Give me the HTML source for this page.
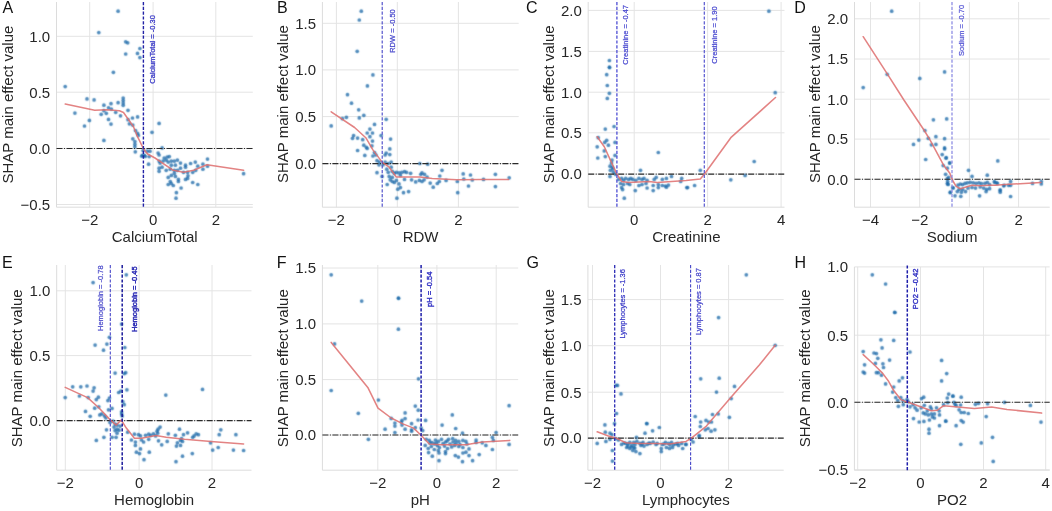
<!DOCTYPE html>
<html><head><meta charset="utf-8"><style>
html,body{margin:0;padding:0;background:#fff;}
svg{display:block;}
#w{width:1052px;height:511px;will-change:transform;}
.t{font-family:"Liberation Sans", sans-serif;font-size:15px;fill:#262626;}
.L{font-family:"Liberation Sans", sans-serif;font-size:16px;fill:#111;}
.v{font-family:"Liberation Sans", sans-serif;font-size:7.5px;}
.p{fill:#1f6cab;fill-opacity:0.78;}
</style></head><body>
<div id="w"><svg width="1052" height="511" viewBox="0 0 1052 511"><defs><filter id="bl" x="0" y="0" width="1052" height="511" filterUnits="userSpaceOnUse"><feConvolveMatrix order="3" kernelMatrix="0.03 0.1 0.03 0.1 0.48 0.1 0.03 0.1 0.03" edgeMode="duplicate"/></filter></defs>
<line x1="89.7" y1="2" x2="89.7" y2="207.2" stroke="#e4e4e4" stroke-width="1"/>
<line x1="153.1" y1="2" x2="153.1" y2="207.2" stroke="#e4e4e4" stroke-width="1"/>
<line x1="215.8" y1="2" x2="215.8" y2="207.2" stroke="#e4e4e4" stroke-width="1"/>
<line x1="56.5" y1="36.3" x2="252.8" y2="36.3" stroke="#e4e4e4" stroke-width="1"/>
<line x1="56.5" y1="92.2" x2="252.8" y2="92.2" stroke="#e4e4e4" stroke-width="1"/>
<line x1="56.5" y1="148.4" x2="252.8" y2="148.4" stroke="#e4e4e4" stroke-width="1"/>
<line x1="56.5" y1="204.5" x2="252.8" y2="204.5" stroke="#e4e4e4" stroke-width="1"/>
<line x1="56.5" y1="2" x2="56.5" y2="207.2" stroke="#dcdcdc" stroke-width="1"/>
<line x1="56.5" y1="207.2" x2="252.8" y2="207.2" stroke="#dcdcdc" stroke-width="1"/>
<text x="89.7" y="224.6" text-anchor="middle" class="t">−2</text>
<text x="153.1" y="224.6" text-anchor="middle" class="t">0</text>
<text x="215.8" y="224.6" text-anchor="middle" class="t">2</text>
<text x="50.2" y="41.6" text-anchor="end" class="t">1.0</text>
<text x="50.2" y="97.5" text-anchor="end" class="t">0.5</text>
<text x="50.2" y="153.7" text-anchor="end" class="t">0.0</text>
<text x="50.2" y="209.8" text-anchor="end" class="t">−0.5</text>
<text x="154.65" y="241.9" text-anchor="middle" class="t">CalciumTotal</text>
<text transform="translate(12.8,104.6) rotate(-90)" text-anchor="middle" class="t">SHAP main effect value</text>
<text x="2.4" y="13.4" class="L">A</text>
<g filter="url(#bl)">
<circle class="p" cx="118.1" cy="11.2" r="1.85"/>
<circle class="p" cx="98.8" cy="32.6" r="1.85"/>
<circle class="p" cx="125.7" cy="41.8" r="1.85"/>
<circle class="p" cx="127.7" cy="42.8" r="1.85"/>
<circle class="p" cx="139.9" cy="48.5" r="1.85"/>
<circle class="p" cx="125.7" cy="54" r="1.85"/>
<circle class="p" cx="137.5" cy="53.4" r="1.85"/>
<circle class="p" cx="139.9" cy="57.6" r="1.85"/>
<circle class="p" cx="113.4" cy="72.3" r="1.85"/>
<circle class="p" cx="65.2" cy="86.6" r="1.85"/>
<circle class="p" cx="87" cy="98.9" r="1.85"/>
<circle class="p" cx="94.1" cy="99.9" r="1.85"/>
<circle class="p" cx="111" cy="103.7" r="1.85"/>
<circle class="p" cx="103.9" cy="105.2" r="1.85"/>
<circle class="p" cx="108.5" cy="107.8" r="1.85"/>
<circle class="p" cx="111.4" cy="109" r="1.85"/>
<circle class="p" cx="103.9" cy="110.7" r="1.85"/>
<circle class="p" cx="106.3" cy="113.3" r="1.85"/>
<circle class="p" cx="101.2" cy="114.3" r="1.85"/>
<circle class="p" cx="115.7" cy="112.3" r="1.85"/>
<circle class="p" cx="74.9" cy="113.1" r="1.85"/>
<circle class="p" cx="89.4" cy="120.4" r="1.85"/>
<circle class="p" cx="84.5" cy="126" r="1.85"/>
<circle class="p" cx="108.5" cy="119.4" r="1.85"/>
<circle class="p" cx="111" cy="124.1" r="1.85"/>
<circle class="p" cx="103.9" cy="140.4" r="1.85"/>
<circle class="p" cx="118.1" cy="102.7" r="1.85"/>
<circle class="p" cx="123.2" cy="98" r="1.85"/>
<circle class="p" cx="123.2" cy="100.5" r="1.85"/>
<circle class="p" cx="123.2" cy="103" r="1.85"/>
<circle class="p" cx="123.2" cy="105.3" r="1.85"/>
<circle class="p" cx="128" cy="110.3" r="1.85"/>
<circle class="p" cx="120.5" cy="115.8" r="1.85"/>
<circle class="p" cx="132.5" cy="118" r="1.85"/>
<circle class="p" cx="137.6" cy="116.9" r="1.85"/>
<circle class="p" cx="128" cy="119.7" r="1.85"/>
<circle class="p" cx="129.4" cy="123.8" r="1.85"/>
<circle class="p" cx="132.8" cy="125.1" r="1.85"/>
<circle class="p" cx="135.5" cy="130.6" r="1.85"/>
<circle class="p" cx="137.6" cy="133.4" r="1.85"/>
<circle class="p" cx="138.3" cy="135.4" r="1.85"/>
<circle class="p" cx="132.8" cy="138.8" r="1.85"/>
<circle class="p" cx="134.9" cy="141.6" r="1.85"/>
<circle class="p" cx="134.9" cy="144.3" r="1.85"/>
<circle class="p" cx="134.9" cy="146.8" r="1.85"/>
<circle class="p" cx="135.3" cy="151.8" r="1.85"/>
<circle class="p" cx="143.1" cy="150.5" r="1.85"/>
<circle class="p" cx="142.4" cy="155.3" r="1.85"/>
<circle class="p" cx="144.5" cy="155.3" r="1.85"/>
<circle class="p" cx="147.2" cy="151.2" r="1.85"/>
<circle class="p" cx="150" cy="151.2" r="1.85"/>
<circle class="p" cx="148.6" cy="164.2" r="1.85"/>
<circle class="p" cx="149.2" cy="156.6" r="1.85"/>
<circle class="p" cx="152" cy="132.3" r="1.85"/>
<circle class="p" cx="159.1" cy="123.4" r="1.85"/>
<circle class="p" cx="162.1" cy="147.9" r="1.85"/>
<circle class="p" cx="158.1" cy="153" r="1.85"/>
<circle class="p" cx="159.1" cy="155" r="1.85"/>
<circle class="p" cx="164.2" cy="158" r="1.85"/>
<circle class="p" cx="167.2" cy="157" r="1.85"/>
<circle class="p" cx="169.3" cy="156.6" r="1.85"/>
<circle class="p" cx="166.2" cy="160.1" r="1.85"/>
<circle class="p" cx="159.1" cy="161.1" r="1.85"/>
<circle class="p" cx="160.1" cy="163.1" r="1.85"/>
<circle class="p" cx="163.1" cy="161.1" r="1.85"/>
<circle class="p" cx="168.2" cy="162.1" r="1.85"/>
<circle class="p" cx="171.3" cy="161.1" r="1.85"/>
<circle class="p" cx="174.3" cy="161.1" r="1.85"/>
<circle class="p" cx="177.4" cy="160.1" r="1.85"/>
<circle class="p" cx="180.5" cy="163.1" r="1.85"/>
<circle class="p" cx="171.3" cy="165.2" r="1.85"/>
<circle class="p" cx="175.4" cy="165.2" r="1.85"/>
<circle class="p" cx="162.1" cy="167.2" r="1.85"/>
<circle class="p" cx="159.1" cy="168.2" r="1.85"/>
<circle class="p" cx="159.1" cy="171.3" r="1.85"/>
<circle class="p" cx="166.2" cy="170.3" r="1.85"/>
<circle class="p" cx="170.3" cy="169.2" r="1.85"/>
<circle class="p" cx="174.3" cy="170.3" r="1.85"/>
<circle class="p" cx="177.4" cy="170.3" r="1.85"/>
<circle class="p" cx="180.5" cy="168.2" r="1.85"/>
<circle class="p" cx="185.5" cy="165.2" r="1.85"/>
<circle class="p" cx="185.5" cy="167.2" r="1.85"/>
<circle class="p" cx="190.6" cy="163.5" r="1.85"/>
<circle class="p" cx="195.3" cy="162.1" r="1.85"/>
<circle class="p" cx="197.8" cy="166.2" r="1.85"/>
<circle class="p" cx="202.9" cy="164.2" r="1.85"/>
<circle class="p" cx="207.5" cy="159.1" r="1.85"/>
<circle class="p" cx="207.5" cy="166.2" r="1.85"/>
<circle class="p" cx="202.9" cy="169.2" r="1.85"/>
<circle class="p" cx="195.7" cy="170.3" r="1.85"/>
<circle class="p" cx="192.7" cy="172.3" r="1.85"/>
<circle class="p" cx="187.6" cy="172.3" r="1.85"/>
<circle class="p" cx="183.5" cy="172.3" r="1.85"/>
<circle class="p" cx="174.3" cy="173.3" r="1.85"/>
<circle class="p" cx="171.3" cy="175.4" r="1.85"/>
<circle class="p" cx="168.2" cy="177.4" r="1.85"/>
<circle class="p" cx="175.4" cy="176.4" r="1.85"/>
<circle class="p" cx="178.4" cy="179.4" r="1.85"/>
<circle class="p" cx="178.4" cy="181.5" r="1.85"/>
<circle class="p" cx="185.5" cy="179.4" r="1.85"/>
<circle class="p" cx="188" cy="175.8" r="1.85"/>
<circle class="p" cx="187.6" cy="178.4" r="1.85"/>
<circle class="p" cx="170.3" cy="181.5" r="1.85"/>
<circle class="p" cx="168.2" cy="184.5" r="1.85"/>
<circle class="p" cx="171.3" cy="183.5" r="1.85"/>
<circle class="p" cx="173.3" cy="185.5" r="1.85"/>
<circle class="p" cx="192.7" cy="182.5" r="1.85"/>
<circle class="p" cx="197.8" cy="184.5" r="1.85"/>
<circle class="p" cx="181.1" cy="188" r="1.85"/>
<circle class="p" cx="176.4" cy="192.7" r="1.85"/>
<circle class="p" cx="176" cy="198.2" r="1.85"/>
<circle class="p" cx="243.6" cy="173.7" r="1.85"/>
<circle class="p" cx="143.5" cy="155.8" r="1.85"/>
<circle class="p" cx="145.2" cy="156.5" r="1.85"/>
<circle class="p" cx="141.8" cy="156.2" r="1.85"/>
</g>
<line x1="56.5" y1="148.4" x2="252.8" y2="148.4" stroke="#2a2a2a" stroke-width="1.05" stroke-dasharray="6 1.5 1 1.5"/>
<polyline points="65.2,104.1 94.7,110.3 106.9,109.8 119.5,110.8 123.5,112.5 127,117.5 133.4,126.5 137.5,136.7 143.6,149 147.6,154 155,158 173.3,170.3 183.5,172.3 193.7,170.3 206.9,164.8 243.6,170.3" fill="none" stroke="#de6d6d" stroke-width="1.55" stroke-opacity="0.85" stroke-linejoin="round" stroke-linecap="round"/>
<line x1="143.4" y1="2" x2="143.4" y2="207.2" stroke="#2222a6" stroke-width="1.4" stroke-dasharray="3.2 1.6"/>
<text transform="translate(155.2,83.7) rotate(-90)" class="v" fill="#3c3cc8" stroke="#3c3cc8" stroke-width="0.3">CalciumTotal = -0.30</text>
<line x1="336.4" y1="2" x2="336.4" y2="207.2" stroke="#e4e4e4" stroke-width="1"/>
<line x1="397.3" y1="2" x2="397.3" y2="207.2" stroke="#e4e4e4" stroke-width="1"/>
<line x1="458.4" y1="2" x2="458.4" y2="207.2" stroke="#e4e4e4" stroke-width="1"/>
<line x1="322.4" y1="23.3" x2="518.7" y2="23.3" stroke="#e4e4e4" stroke-width="1"/>
<line x1="322.4" y1="69.9" x2="518.7" y2="69.9" stroke="#e4e4e4" stroke-width="1"/>
<line x1="322.4" y1="116.6" x2="518.7" y2="116.6" stroke="#e4e4e4" stroke-width="1"/>
<line x1="322.4" y1="163.6" x2="518.7" y2="163.6" stroke="#e4e4e4" stroke-width="1"/>
<line x1="322.4" y1="2" x2="322.4" y2="207.2" stroke="#dcdcdc" stroke-width="1"/>
<line x1="322.4" y1="207.2" x2="518.7" y2="207.2" stroke="#dcdcdc" stroke-width="1"/>
<text x="336.4" y="224.6" text-anchor="middle" class="t">−2</text>
<text x="397.3" y="224.6" text-anchor="middle" class="t">0</text>
<text x="458.4" y="224.6" text-anchor="middle" class="t">2</text>
<text x="316.1" y="28.6" text-anchor="end" class="t">1.5</text>
<text x="316.1" y="75.2" text-anchor="end" class="t">1.0</text>
<text x="316.1" y="121.9" text-anchor="end" class="t">0.5</text>
<text x="316.1" y="168.9" text-anchor="end" class="t">0.0</text>
<text x="420.55" y="241.9" text-anchor="middle" class="t">RDW</text>
<text transform="translate(287.6,104.1) rotate(-90)" text-anchor="middle" class="t">SHAP main effect value</text>
<text x="276.9" y="13.4" class="L">B</text>
<g filter="url(#bl)">
<circle class="p" cx="361.3" cy="11.2" r="1.85"/>
<circle class="p" cx="359.3" cy="20" r="1.85"/>
<circle class="p" cx="357.2" cy="51.3" r="1.85"/>
<circle class="p" cx="372.9" cy="74.9" r="1.85"/>
<circle class="p" cx="367.4" cy="85.9" r="1.85"/>
<circle class="p" cx="347.5" cy="94.7" r="1.85"/>
<circle class="p" cx="351.5" cy="103.2" r="1.85"/>
<circle class="p" cx="358.7" cy="109.8" r="1.85"/>
<circle class="p" cx="363.8" cy="115.3" r="1.85"/>
<circle class="p" cx="359.3" cy="117.9" r="1.85"/>
<circle class="p" cx="346.4" cy="117.3" r="1.85"/>
<circle class="p" cx="342.4" cy="118.7" r="1.85"/>
<circle class="p" cx="331.2" cy="125.9" r="1.85"/>
<circle class="p" cx="386.2" cy="119.3" r="1.85"/>
<circle class="p" cx="374.5" cy="124.4" r="1.85"/>
<circle class="p" cx="369.9" cy="129.1" r="1.85"/>
<circle class="p" cx="367.2" cy="133" r="1.85"/>
<circle class="p" cx="372.5" cy="133" r="1.85"/>
<circle class="p" cx="353.6" cy="135.6" r="1.85"/>
<circle class="p" cx="357.6" cy="138.1" r="1.85"/>
<circle class="p" cx="352.5" cy="138.3" r="1.85"/>
<circle class="p" cx="362.7" cy="139.7" r="1.85"/>
<circle class="p" cx="369.9" cy="136.7" r="1.85"/>
<circle class="p" cx="372.5" cy="141.1" r="1.85"/>
<circle class="p" cx="381.1" cy="135.6" r="1.85"/>
<circle class="p" cx="390.6" cy="139.1" r="1.85"/>
<circle class="p" cx="363.8" cy="145.2" r="1.85"/>
<circle class="p" cx="366.4" cy="147.3" r="1.85"/>
<circle class="p" cx="367.2" cy="148.5" r="1.85"/>
<circle class="p" cx="371.9" cy="145.8" r="1.85"/>
<circle class="p" cx="357.6" cy="150.5" r="1.85"/>
<circle class="p" cx="374.5" cy="152.5" r="1.85"/>
<circle class="p" cx="376" cy="155" r="1.85"/>
<circle class="p" cx="364.8" cy="155.4" r="1.85"/>
<circle class="p" cx="372.9" cy="156" r="1.85"/>
<circle class="p" cx="389.8" cy="148.9" r="1.85"/>
<circle class="p" cx="386.2" cy="153" r="1.85"/>
<circle class="p" cx="385.1" cy="155" r="1.85"/>
<circle class="p" cx="389.8" cy="154.6" r="1.85"/>
<circle class="p" cx="377" cy="160.7" r="1.85"/>
<circle class="p" cx="379.4" cy="162.1" r="1.85"/>
<circle class="p" cx="379" cy="164.8" r="1.85"/>
<circle class="p" cx="383.1" cy="164.8" r="1.85"/>
<circle class="p" cx="385.1" cy="162.1" r="1.85"/>
<circle class="p" cx="388.2" cy="163.5" r="1.85"/>
<circle class="p" cx="391.2" cy="162.1" r="1.85"/>
<circle class="p" cx="386.8" cy="169.2" r="1.85"/>
<circle class="p" cx="388.2" cy="172.3" r="1.85"/>
<circle class="p" cx="391.2" cy="167.2" r="1.85"/>
<circle class="p" cx="392.3" cy="171.3" r="1.85"/>
<circle class="p" cx="394.3" cy="173.3" r="1.85"/>
<circle class="p" cx="389.2" cy="176.4" r="1.85"/>
<circle class="p" cx="390.2" cy="179.8" r="1.85"/>
<circle class="p" cx="392.3" cy="181.5" r="1.85"/>
<circle class="p" cx="394.3" cy="182.5" r="1.85"/>
<circle class="p" cx="396.3" cy="180.4" r="1.85"/>
<circle class="p" cx="377" cy="172.7" r="1.85"/>
<circle class="p" cx="382.1" cy="176.4" r="1.85"/>
<circle class="p" cx="387.2" cy="184.5" r="1.85"/>
<circle class="p" cx="399" cy="183.9" r="1.85"/>
<circle class="p" cx="400.4" cy="187.6" r="1.85"/>
<circle class="p" cx="397.8" cy="189.2" r="1.85"/>
<circle class="p" cx="403.5" cy="192.7" r="1.85"/>
<circle class="p" cx="408.6" cy="191.6" r="1.85"/>
<circle class="p" cx="396.9" cy="198.2" r="1.85"/>
<circle class="p" cx="396.3" cy="172.3" r="1.85"/>
<circle class="p" cx="399" cy="172.9" r="1.85"/>
<circle class="p" cx="401.8" cy="172.3" r="1.85"/>
<circle class="p" cx="404.5" cy="171.7" r="1.85"/>
<circle class="p" cx="406.5" cy="172.3" r="1.85"/>
<circle class="p" cx="410.6" cy="173.3" r="1.85"/>
<circle class="p" cx="404.5" cy="179.4" r="1.85"/>
<circle class="p" cx="411.6" cy="179.8" r="1.85"/>
<circle class="p" cx="415.7" cy="181.9" r="1.85"/>
<circle class="p" cx="419.4" cy="180.4" r="1.85"/>
<circle class="p" cx="420.8" cy="174.3" r="1.85"/>
<circle class="p" cx="419.8" cy="163.5" r="1.85"/>
<circle class="p" cx="400.4" cy="175.4" r="1.85"/>
<circle class="p" cx="392.3" cy="177.4" r="1.85"/>
<circle class="p" cx="427.7" cy="164.2" r="1.85"/>
<circle class="p" cx="422" cy="172.9" r="1.85"/>
<circle class="p" cx="424.5" cy="174.3" r="1.85"/>
<circle class="p" cx="427.1" cy="177" r="1.85"/>
<circle class="p" cx="422" cy="181.5" r="1.85"/>
<circle class="p" cx="424.1" cy="179.8" r="1.85"/>
<circle class="p" cx="430.2" cy="183.1" r="1.85"/>
<circle class="p" cx="433.2" cy="187.2" r="1.85"/>
<circle class="p" cx="437.3" cy="183.5" r="1.85"/>
<circle class="p" cx="439.3" cy="181.5" r="1.85"/>
<circle class="p" cx="439.8" cy="176" r="1.85"/>
<circle class="p" cx="442" cy="170.3" r="1.85"/>
<circle class="p" cx="446.1" cy="180.4" r="1.85"/>
<circle class="p" cx="457.3" cy="181.5" r="1.85"/>
<circle class="p" cx="457.7" cy="192.7" r="1.85"/>
<circle class="p" cx="463.2" cy="173.9" r="1.85"/>
<circle class="p" cx="463.8" cy="179" r="1.85"/>
<circle class="p" cx="470.5" cy="175" r="1.85"/>
<circle class="p" cx="472.3" cy="180" r="1.85"/>
<circle class="p" cx="468.5" cy="186" r="1.85"/>
<circle class="p" cx="483.5" cy="179.4" r="1.85"/>
<circle class="p" cx="495.4" cy="174.3" r="1.85"/>
<circle class="p" cx="495.4" cy="186.6" r="1.85"/>
<circle class="p" cx="509.2" cy="177.8" r="1.85"/>
</g>
<line x1="322.4" y1="163.6" x2="518.7" y2="163.6" stroke="#2a2a2a" stroke-width="1.05" stroke-dasharray="6 1.5 1 1.5"/>
<polyline points="331.2,111.8 354.6,127.5 365.8,137.7 372.9,149.9 382.1,162.1 389.2,167.2 396.3,177 407.5,177 420,177 432.2,178.4 456.7,179.8 481.1,179.4 508.6,179.4" fill="none" stroke="#de6d6d" stroke-width="1.55" stroke-opacity="0.85" stroke-linejoin="round" stroke-linecap="round"/>
<line x1="382.2" y1="2" x2="382.2" y2="207.2" stroke="#4646c8" stroke-width="1.1" stroke-dasharray="3.2 1.6"/>
<text transform="translate(394.8,52.8) rotate(-90)" class="v" fill="#4a4acc" stroke="#4a4acc" stroke-width="0.25">RDW = -0.50</text>
<line x1="634.2" y1="2" x2="634.2" y2="207.2" stroke="#e4e4e4" stroke-width="1"/>
<line x1="707.6" y1="2" x2="707.6" y2="207.2" stroke="#e4e4e4" stroke-width="1"/>
<line x1="781.1" y1="2" x2="781.1" y2="207.2" stroke="#e4e4e4" stroke-width="1"/>
<line x1="588.2" y1="10.4" x2="784.5" y2="10.4" stroke="#e4e4e4" stroke-width="1"/>
<line x1="588.2" y1="51.4" x2="784.5" y2="51.4" stroke="#e4e4e4" stroke-width="1"/>
<line x1="588.2" y1="92.2" x2="784.5" y2="92.2" stroke="#e4e4e4" stroke-width="1"/>
<line x1="588.2" y1="132.8" x2="784.5" y2="132.8" stroke="#e4e4e4" stroke-width="1"/>
<line x1="588.2" y1="174.1" x2="784.5" y2="174.1" stroke="#e4e4e4" stroke-width="1"/>
<line x1="588.2" y1="2" x2="588.2" y2="207.2" stroke="#dcdcdc" stroke-width="1"/>
<line x1="588.2" y1="207.2" x2="784.5" y2="207.2" stroke="#dcdcdc" stroke-width="1"/>
<text x="634.2" y="224.6" text-anchor="middle" class="t">0</text>
<text x="707.6" y="224.6" text-anchor="middle" class="t">2</text>
<text x="781.1" y="224.6" text-anchor="middle" class="t">4</text>
<text x="581.9" y="15.7" text-anchor="end" class="t">2.0</text>
<text x="581.9" y="56.7" text-anchor="end" class="t">1.5</text>
<text x="581.9" y="97.5" text-anchor="end" class="t">1.0</text>
<text x="581.9" y="138.1" text-anchor="end" class="t">0.5</text>
<text x="581.9" y="179.4" text-anchor="end" class="t">0.0</text>
<text x="686.35" y="241.9" text-anchor="middle" class="t">Creatinine</text>
<text transform="translate(554.2,104.3) rotate(-90)" text-anchor="middle" class="t">SHAP main effect value</text>
<text x="526.1" y="13.4" class="L">C</text>
<g filter="url(#bl)">
<circle class="p" cx="609.4" cy="60.5" r="1.85"/>
<circle class="p" cx="609.4" cy="67.2" r="1.85"/>
<circle class="p" cx="609.6" cy="67.6" r="1.85"/>
<circle class="p" cx="606.7" cy="74.7" r="1.85"/>
<circle class="p" cx="607.3" cy="85.5" r="1.85"/>
<circle class="p" cx="609.4" cy="93.3" r="1.85"/>
<circle class="p" cx="607.3" cy="98.4" r="1.85"/>
<circle class="p" cx="614.1" cy="126.5" r="1.85"/>
<circle class="p" cx="605.3" cy="129.1" r="1.85"/>
<circle class="p" cx="598.2" cy="137.7" r="1.85"/>
<circle class="p" cx="606.7" cy="140.3" r="1.85"/>
<circle class="p" cx="604.7" cy="142.4" r="1.85"/>
<circle class="p" cx="608.4" cy="145.2" r="1.85"/>
<circle class="p" cx="615.1" cy="142.4" r="1.85"/>
<circle class="p" cx="597.2" cy="146.8" r="1.85"/>
<circle class="p" cx="604.3" cy="150.9" r="1.85"/>
<circle class="p" cx="605.3" cy="156.6" r="1.85"/>
<circle class="p" cx="597.8" cy="158" r="1.85"/>
<circle class="p" cx="615.1" cy="155.4" r="1.85"/>
<circle class="p" cx="612" cy="160.1" r="1.85"/>
<circle class="p" cx="610" cy="166.2" r="1.85"/>
<circle class="p" cx="612.4" cy="167.2" r="1.85"/>
<circle class="p" cx="610.4" cy="170.3" r="1.85"/>
<circle class="p" cx="613.5" cy="172.3" r="1.85"/>
<circle class="p" cx="610" cy="176.4" r="1.85"/>
<circle class="p" cx="615.5" cy="174.3" r="1.85"/>
<circle class="p" cx="611.5" cy="163" r="1.85"/>
<circle class="p" cx="613" cy="169" r="1.85"/>
<circle class="p" cx="658.3" cy="152.5" r="1.85"/>
<circle class="p" cx="640.5" cy="170.3" r="1.85"/>
<circle class="p" cx="618.5" cy="179.4" r="1.85"/>
<circle class="p" cx="621.6" cy="178.4" r="1.85"/>
<circle class="p" cx="623.6" cy="180.4" r="1.85"/>
<circle class="p" cx="625.7" cy="178.4" r="1.85"/>
<circle class="p" cx="628.7" cy="179.4" r="1.85"/>
<circle class="p" cx="630.8" cy="178.4" r="1.85"/>
<circle class="p" cx="632.8" cy="179.4" r="1.85"/>
<circle class="p" cx="635.9" cy="180.4" r="1.85"/>
<circle class="p" cx="638.9" cy="178.4" r="1.85"/>
<circle class="p" cx="642" cy="179.4" r="1.85"/>
<circle class="p" cx="644" cy="178.4" r="1.85"/>
<circle class="p" cx="647.1" cy="180.4" r="1.85"/>
<circle class="p" cx="654.2" cy="179.4" r="1.85"/>
<circle class="p" cx="656.2" cy="177.4" r="1.85"/>
<circle class="p" cx="662.3" cy="179.4" r="1.85"/>
<circle class="p" cx="666.4" cy="178.4" r="1.85"/>
<circle class="p" cx="671.5" cy="176.4" r="1.85"/>
<circle class="p" cx="681.7" cy="178.4" r="1.85"/>
<circle class="p" cx="620.6" cy="183.5" r="1.85"/>
<circle class="p" cx="623.6" cy="184.5" r="1.85"/>
<circle class="p" cx="627.7" cy="183.5" r="1.85"/>
<circle class="p" cx="629.8" cy="184.5" r="1.85"/>
<circle class="p" cx="638.9" cy="185.5" r="1.85"/>
<circle class="p" cx="642" cy="184.5" r="1.85"/>
<circle class="p" cx="646" cy="183.5" r="1.85"/>
<circle class="p" cx="653.2" cy="185.5" r="1.85"/>
<circle class="p" cx="658.3" cy="184.5" r="1.85"/>
<circle class="p" cx="662.3" cy="185.5" r="1.85"/>
<circle class="p" cx="665.4" cy="186" r="1.85"/>
<circle class="p" cx="668.4" cy="185.1" r="1.85"/>
<circle class="p" cx="680.7" cy="181.5" r="1.85"/>
<circle class="p" cx="686.8" cy="187.6" r="1.85"/>
<circle class="p" cx="621.6" cy="187.6" r="1.85"/>
<circle class="p" cx="622.6" cy="189.6" r="1.85"/>
<circle class="p" cx="647.1" cy="188" r="1.85"/>
<circle class="p" cx="658.3" cy="187.6" r="1.85"/>
<circle class="p" cx="666.4" cy="187.2" r="1.85"/>
<circle class="p" cx="635.3" cy="190.6" r="1.85"/>
<circle class="p" cx="653.2" cy="190.6" r="1.85"/>
<circle class="p" cx="624.3" cy="198.2" r="1.85"/>
<circle class="p" cx="687.6" cy="187.6" r="1.85"/>
<circle class="p" cx="694.6" cy="185.5" r="1.85"/>
<circle class="p" cx="700.3" cy="170.3" r="1.85"/>
<circle class="p" cx="730.8" cy="179.8" r="1.85"/>
<circle class="p" cx="745.1" cy="175.4" r="1.85"/>
<circle class="p" cx="754.2" cy="161.5" r="1.85"/>
<circle class="p" cx="768.9" cy="11.2" r="1.85"/>
<circle class="p" cx="775.2" cy="92.7" r="1.85"/>
</g>
<line x1="588.2" y1="174.1" x2="784.5" y2="174.1" stroke="#2a2a2a" stroke-width="1.05" stroke-dasharray="6 1.5 1 1.5"/>
<polyline points="597.2,136.7 604.3,146.8 610.4,160.1 616.5,173.3 621.6,181.5 628.7,182.5 649.1,181.5 657.2,182.5 686,180.4 700.3,178.9 704.7,173.7 730.8,137.7 775.5,97.5" fill="none" stroke="#de6d6d" stroke-width="1.55" stroke-opacity="0.85" stroke-linejoin="round" stroke-linecap="round"/>
<line x1="616.9" y1="2" x2="616.9" y2="207.2" stroke="#4d4dd4" stroke-width="1.3" stroke-dasharray="3.2 1.6"/>
<text transform="translate(627.8,64.8) rotate(-90)" class="v" fill="#4a4ad0" stroke="#4a4ad0" stroke-width="0.25">Creatinine = -0.47</text>
<line x1="704.3" y1="2" x2="704.3" y2="207.2" stroke="#5656d0" stroke-width="1.2" stroke-dasharray="3.2 1.6"/>
<text transform="translate(717.2,63.7) rotate(-90)" class="v" fill="#4a4ad0" stroke="#4a4ad0" stroke-width="0.25">Creatinine = 1.90</text>
<line x1="870.5" y1="2" x2="870.5" y2="207.2" stroke="#e4e4e4" stroke-width="1"/>
<line x1="919.7" y1="2" x2="919.7" y2="207.2" stroke="#e4e4e4" stroke-width="1"/>
<line x1="969.4" y1="2" x2="969.4" y2="207.2" stroke="#e4e4e4" stroke-width="1"/>
<line x1="1018.6" y1="2" x2="1018.6" y2="207.2" stroke="#e4e4e4" stroke-width="1"/>
<line x1="854.5" y1="18.8" x2="1049.7" y2="18.8" stroke="#e4e4e4" stroke-width="1"/>
<line x1="854.5" y1="59" x2="1049.7" y2="59" stroke="#e4e4e4" stroke-width="1"/>
<line x1="854.5" y1="99.2" x2="1049.7" y2="99.2" stroke="#e4e4e4" stroke-width="1"/>
<line x1="854.5" y1="139.1" x2="1049.7" y2="139.1" stroke="#e4e4e4" stroke-width="1"/>
<line x1="854.5" y1="179.2" x2="1049.7" y2="179.2" stroke="#e4e4e4" stroke-width="1"/>
<line x1="854.5" y1="2" x2="854.5" y2="207.2" stroke="#dcdcdc" stroke-width="1"/>
<line x1="854.5" y1="207.2" x2="1049.7" y2="207.2" stroke="#dcdcdc" stroke-width="1"/>
<text x="870.5" y="224.6" text-anchor="middle" class="t">−4</text>
<text x="919.7" y="224.6" text-anchor="middle" class="t">−2</text>
<text x="969.4" y="224.6" text-anchor="middle" class="t">0</text>
<text x="1018.6" y="224.6" text-anchor="middle" class="t">2</text>
<text x="848.2" y="24.1" text-anchor="end" class="t">2.0</text>
<text x="848.2" y="64.3" text-anchor="end" class="t">1.5</text>
<text x="848.2" y="104.5" text-anchor="end" class="t">1.0</text>
<text x="848.2" y="144.4" text-anchor="end" class="t">0.5</text>
<text x="848.2" y="184.5" text-anchor="end" class="t">0.0</text>
<text x="952.1" y="241.9" text-anchor="middle" class="t">Sodium</text>
<text transform="translate(819.7,104.1) rotate(-90)" text-anchor="middle" class="t">SHAP main effect value</text>
<text x="794.3" y="13.4" class="L">D</text>
<g filter="url(#bl)">
<circle class="p" cx="891.7" cy="11.2" r="1.85"/>
<circle class="p" cx="887.2" cy="74.3" r="1.85"/>
<circle class="p" cx="863.2" cy="87.6" r="1.85"/>
<circle class="p" cx="919.8" cy="78.4" r="1.85"/>
<circle class="p" cx="944.6" cy="71.9" r="1.85"/>
<circle class="p" cx="933.4" cy="119.8" r="1.85"/>
<circle class="p" cx="946.7" cy="118.9" r="1.85"/>
<circle class="p" cx="924.9" cy="130.5" r="1.85"/>
<circle class="p" cx="928.3" cy="138.3" r="1.85"/>
<circle class="p" cx="918.8" cy="140.1" r="1.85"/>
<circle class="p" cx="913.5" cy="144.4" r="1.85"/>
<circle class="p" cx="935.9" cy="136.7" r="1.85"/>
<circle class="p" cx="944.6" cy="138.7" r="1.85"/>
<circle class="p" cx="931.4" cy="144.8" r="1.85"/>
<circle class="p" cx="935.9" cy="144.4" r="1.85"/>
<circle class="p" cx="944.6" cy="147.9" r="1.85"/>
<circle class="p" cx="944.6" cy="148.9" r="1.85"/>
<circle class="p" cx="942.2" cy="154.6" r="1.85"/>
<circle class="p" cx="946.1" cy="158.2" r="1.85"/>
<circle class="p" cx="925.7" cy="159.5" r="1.85"/>
<circle class="p" cx="949.7" cy="163.1" r="1.85"/>
<circle class="p" cx="943.2" cy="165.6" r="1.85"/>
<circle class="p" cx="947.3" cy="168.2" r="1.85"/>
<circle class="p" cx="945.6" cy="174.3" r="1.85"/>
<circle class="p" cx="948.7" cy="177.4" r="1.85"/>
<circle class="p" cx="947.7" cy="181.5" r="1.85"/>
<circle class="p" cx="947.3" cy="183.5" r="1.85"/>
<circle class="p" cx="948.1" cy="184.5" r="1.85"/>
<circle class="p" cx="950.3" cy="192.7" r="1.85"/>
<circle class="p" cx="952.8" cy="187.6" r="1.85"/>
<circle class="p" cx="946.2" cy="157.6" r="1.85"/>
<circle class="p" cx="949.7" cy="162.9" r="1.85"/>
<circle class="p" cx="997.8" cy="160.9" r="1.85"/>
<circle class="p" cx="968.5" cy="170.3" r="1.85"/>
<circle class="p" cx="972" cy="176.4" r="1.85"/>
<circle class="p" cx="987.3" cy="175.2" r="1.85"/>
<circle class="p" cx="947.3" cy="178.7" r="1.85"/>
<circle class="p" cx="947.9" cy="184" r="1.85"/>
<circle class="p" cx="953.2" cy="188.1" r="1.85"/>
<circle class="p" cx="950.3" cy="192.2" r="1.85"/>
<circle class="p" cx="955" cy="195.8" r="1.85"/>
<circle class="p" cx="960.8" cy="196.3" r="1.85"/>
<circle class="p" cx="979.6" cy="195.8" r="1.85"/>
<circle class="p" cx="1000.2" cy="190.5" r="1.85"/>
<circle class="p" cx="1000.2" cy="192.2" r="1.85"/>
<circle class="p" cx="957.9" cy="185.2" r="1.85"/>
<circle class="p" cx="960.3" cy="184" r="1.85"/>
<circle class="p" cx="962.6" cy="184.6" r="1.85"/>
<circle class="p" cx="965" cy="183.4" r="1.85"/>
<circle class="p" cx="967.3" cy="182.8" r="1.85"/>
<circle class="p" cx="970.2" cy="182.3" r="1.85"/>
<circle class="p" cx="973.2" cy="182.8" r="1.85"/>
<circle class="p" cx="976.1" cy="183.4" r="1.85"/>
<circle class="p" cx="979" cy="182.8" r="1.85"/>
<circle class="p" cx="981.4" cy="183.7" r="1.85"/>
<circle class="p" cx="984.9" cy="183.4" r="1.85"/>
<circle class="p" cx="987.3" cy="182.3" r="1.85"/>
<circle class="p" cx="989.6" cy="184.6" r="1.85"/>
<circle class="p" cx="994.3" cy="181.7" r="1.85"/>
<circle class="p" cx="996.6" cy="182.8" r="1.85"/>
<circle class="p" cx="959.1" cy="189.3" r="1.85"/>
<circle class="p" cx="962.6" cy="189.3" r="1.85"/>
<circle class="p" cx="965.5" cy="191.6" r="1.85"/>
<circle class="p" cx="967.9" cy="188.1" r="1.85"/>
<circle class="p" cx="972" cy="187.5" r="1.85"/>
<circle class="p" cx="975.5" cy="188.1" r="1.85"/>
<circle class="p" cx="980.2" cy="187" r="1.85"/>
<circle class="p" cx="983.7" cy="188.1" r="1.85"/>
<circle class="p" cx="986.7" cy="189.3" r="1.85"/>
<circle class="p" cx="989.6" cy="188.7" r="1.85"/>
<circle class="p" cx="986.1" cy="191.6" r="1.85"/>
<circle class="p" cx="957.3" cy="191.6" r="1.85"/>
<circle class="p" cx="961.4" cy="192.2" r="1.85"/>
<circle class="p" cx="1003.7" cy="185.8" r="1.85"/>
<circle class="p" cx="994.9" cy="182.4" r="1.85"/>
<circle class="p" cx="997.5" cy="183.4" r="1.85"/>
<circle class="p" cx="1004.1" cy="185.3" r="1.85"/>
<circle class="p" cx="1008.6" cy="185.3" r="1.85"/>
<circle class="p" cx="1010.6" cy="185.3" r="1.85"/>
<circle class="p" cx="1010.6" cy="181.4" r="1.85"/>
<circle class="p" cx="1000.2" cy="189.8" r="1.85"/>
<circle class="p" cx="1010.6" cy="196.5" r="1.85"/>
<circle class="p" cx="1032.5" cy="183.4" r="1.85"/>
<circle class="p" cx="1041.3" cy="181.4" r="1.85"/>
<circle class="p" cx="1041.3" cy="184" r="1.85"/>
</g>
<line x1="854.5" y1="179.2" x2="1049.7" y2="179.2" stroke="#2a2a2a" stroke-width="1.05" stroke-dasharray="6 1.5 1 1.5"/>
<polyline points="863.2,36.7 887.6,74.3 903.9,100 924.3,130.5 930.4,140.7 943.6,165.2 949.7,172.9 952.6,180.5 956.2,186.4 960.3,188.7 966.1,187 972,185.2 980.2,185.8 989.6,185.2 995.5,185.2 1004.9,184.6 1040.9,182.4" fill="none" stroke="#de6d6d" stroke-width="1.55" stroke-opacity="0.85" stroke-linejoin="round" stroke-linecap="round"/>
<line x1="952" y1="2" x2="952" y2="207.2" stroke="#8585e2" stroke-width="1.2" stroke-dasharray="3.2 1.6"/>
<text transform="translate(964,56) rotate(-90)" class="v" fill="#5a5ad6" stroke="#5a5ad6" stroke-width="0.25">Sodium = -0.70</text>
<line x1="65.3" y1="265" x2="65.3" y2="470.2" stroke="#e4e4e4" stroke-width="1"/>
<line x1="139.1" y1="265" x2="139.1" y2="470.2" stroke="#e4e4e4" stroke-width="1"/>
<line x1="212" y1="265" x2="212" y2="470.2" stroke="#e4e4e4" stroke-width="1"/>
<line x1="56.7" y1="290.8" x2="251.5" y2="290.8" stroke="#e4e4e4" stroke-width="1"/>
<line x1="56.7" y1="355.6" x2="251.5" y2="355.6" stroke="#e4e4e4" stroke-width="1"/>
<line x1="56.7" y1="420.6" x2="251.5" y2="420.6" stroke="#e4e4e4" stroke-width="1"/>
<line x1="56.7" y1="265" x2="56.7" y2="470.2" stroke="#dcdcdc" stroke-width="1"/>
<line x1="56.7" y1="470.2" x2="251.5" y2="470.2" stroke="#dcdcdc" stroke-width="1"/>
<text x="65.3" y="488" text-anchor="middle" class="t">−2</text>
<text x="139.1" y="488" text-anchor="middle" class="t">0</text>
<text x="212" y="488" text-anchor="middle" class="t">2</text>
<text x="50.4" y="296.1" text-anchor="end" class="t">1.0</text>
<text x="50.4" y="360.9" text-anchor="end" class="t">0.5</text>
<text x="50.4" y="425.9" text-anchor="end" class="t">0.0</text>
<text x="154.1" y="505.3" text-anchor="middle" class="t">Hemoglobin</text>
<text transform="translate(21.7,368.3) rotate(-90)" text-anchor="middle" class="t">SHAP main effect value</text>
<text x="2.1" y="267.6" class="L">E</text>
<g filter="url(#bl)">
<circle class="p" cx="126.3" cy="274.8" r="1.85"/>
<circle class="p" cx="93.1" cy="282.6" r="1.85"/>
<circle class="p" cx="121.6" cy="324.1" r="1.85"/>
<circle class="p" cx="109.4" cy="337.3" r="1.85"/>
<circle class="p" cx="106.9" cy="344.1" r="1.85"/>
<circle class="p" cx="95.1" cy="345.1" r="1.85"/>
<circle class="p" cx="103.5" cy="350.2" r="1.85"/>
<circle class="p" cx="124.8" cy="347.5" r="1.85"/>
<circle class="p" cx="115.1" cy="373.1" r="1.85"/>
<circle class="p" cx="124.2" cy="373.6" r="1.85"/>
<circle class="p" cx="125.7" cy="372.7" r="1.85"/>
<circle class="p" cx="72.7" cy="386.8" r="1.85"/>
<circle class="p" cx="80.8" cy="386.8" r="1.85"/>
<circle class="p" cx="87" cy="386" r="1.85"/>
<circle class="p" cx="94.1" cy="387.8" r="1.85"/>
<circle class="p" cx="93.1" cy="391.1" r="1.85"/>
<circle class="p" cx="126.9" cy="389.8" r="1.85"/>
<circle class="p" cx="118.7" cy="392.5" r="1.85"/>
<circle class="p" cx="120.8" cy="391.1" r="1.85"/>
<circle class="p" cx="65.2" cy="397.6" r="1.85"/>
<circle class="p" cx="79.4" cy="396" r="1.85"/>
<circle class="p" cx="88.2" cy="397.6" r="1.85"/>
<circle class="p" cx="98.4" cy="397.2" r="1.85"/>
<circle class="p" cx="96.3" cy="399.6" r="1.85"/>
<circle class="p" cx="107.9" cy="400.6" r="1.85"/>
<circle class="p" cx="109.4" cy="398" r="1.85"/>
<circle class="p" cx="122.8" cy="401.7" r="1.85"/>
<circle class="p" cx="124.2" cy="404.7" r="1.85"/>
<circle class="p" cx="98.8" cy="406.8" r="1.85"/>
<circle class="p" cx="94.7" cy="408.2" r="1.85"/>
<circle class="p" cx="85.5" cy="411.4" r="1.85"/>
<circle class="p" cx="90.2" cy="416.3" r="1.85"/>
<circle class="p" cx="108.5" cy="409.8" r="1.85"/>
<circle class="p" cx="112" cy="408.4" r="1.85"/>
<circle class="p" cx="121.6" cy="411.8" r="1.85"/>
<circle class="p" cx="121.6" cy="413.9" r="1.85"/>
<circle class="p" cx="122.2" cy="415.9" r="1.85"/>
<circle class="p" cx="99.8" cy="414.9" r="1.85"/>
<circle class="p" cx="101.8" cy="413.9" r="1.85"/>
<circle class="p" cx="104.5" cy="415.9" r="1.85"/>
<circle class="p" cx="105.9" cy="418" r="1.85"/>
<circle class="p" cx="110" cy="422.4" r="1.85"/>
<circle class="p" cx="113" cy="421" r="1.85"/>
<circle class="p" cx="115.1" cy="424.1" r="1.85"/>
<circle class="p" cx="117.1" cy="425.1" r="1.85"/>
<circle class="p" cx="114" cy="427.1" r="1.85"/>
<circle class="p" cx="117.1" cy="429.2" r="1.85"/>
<circle class="p" cx="119.1" cy="430.2" r="1.85"/>
<circle class="p" cx="115.1" cy="430.6" r="1.85"/>
<circle class="p" cx="120.2" cy="426.1" r="1.85"/>
<circle class="p" cx="106.5" cy="429.8" r="1.85"/>
<circle class="p" cx="117.1" cy="433.2" r="1.85"/>
<circle class="p" cx="112" cy="437.3" r="1.85"/>
<circle class="p" cx="116.1" cy="437.3" r="1.85"/>
<circle class="p" cx="103.9" cy="437.3" r="1.85"/>
<circle class="p" cx="96.3" cy="440.4" r="1.85"/>
<circle class="p" cx="127.7" cy="432.2" r="1.85"/>
<circle class="p" cx="131.4" cy="440" r="1.85"/>
<circle class="p" cx="134.4" cy="434.2" r="1.85"/>
<circle class="p" cx="135.4" cy="442" r="1.85"/>
<circle class="p" cx="135.4" cy="445.4" r="1.85"/>
<circle class="p" cx="138.5" cy="434.7" r="1.85"/>
<circle class="p" cx="140.5" cy="435.9" r="1.85"/>
<circle class="p" cx="141.5" cy="440" r="1.85"/>
<circle class="p" cx="143.6" cy="442" r="1.85"/>
<circle class="p" cx="145.6" cy="435.3" r="1.85"/>
<circle class="p" cx="148.7" cy="434.2" r="1.85"/>
<circle class="p" cx="150.7" cy="435.3" r="1.85"/>
<circle class="p" cx="148.7" cy="439.3" r="1.85"/>
<circle class="p" cx="153.4" cy="433.8" r="1.85"/>
<circle class="p" cx="136.4" cy="452.2" r="1.85"/>
<circle class="p" cx="139.5" cy="453.6" r="1.85"/>
<circle class="p" cx="140.5" cy="448.9" r="1.85"/>
<circle class="p" cx="149.3" cy="452.2" r="1.85"/>
<circle class="p" cx="144" cy="459.7" r="1.85"/>
<circle class="p" cx="165.8" cy="395.1" r="1.85"/>
<circle class="p" cx="202.5" cy="389.4" r="1.85"/>
<circle class="p" cx="160.1" cy="427.1" r="1.85"/>
<circle class="p" cx="158.1" cy="429.2" r="1.85"/>
<circle class="p" cx="157.1" cy="431.2" r="1.85"/>
<circle class="p" cx="157.7" cy="433.2" r="1.85"/>
<circle class="p" cx="155.6" cy="435.9" r="1.85"/>
<circle class="p" cx="158.5" cy="440.8" r="1.85"/>
<circle class="p" cx="161.7" cy="444.8" r="1.85"/>
<circle class="p" cx="167.2" cy="441.4" r="1.85"/>
<circle class="p" cx="168.3" cy="433.8" r="1.85"/>
<circle class="p" cx="175.4" cy="435.3" r="1.85"/>
<circle class="p" cx="179.5" cy="429.2" r="1.85"/>
<circle class="p" cx="183.5" cy="434.7" r="1.85"/>
<circle class="p" cx="187.6" cy="432.8" r="1.85"/>
<circle class="p" cx="181.5" cy="438.7" r="1.85"/>
<circle class="p" cx="182.5" cy="441.4" r="1.85"/>
<circle class="p" cx="180.5" cy="440.4" r="1.85"/>
<circle class="p" cx="177.4" cy="442.8" r="1.85"/>
<circle class="p" cx="176.4" cy="446.1" r="1.85"/>
<circle class="p" cx="180.5" cy="445.4" r="1.85"/>
<circle class="p" cx="192.7" cy="437.3" r="1.85"/>
<circle class="p" cx="194.1" cy="435.9" r="1.85"/>
<circle class="p" cx="196.2" cy="433.8" r="1.85"/>
<circle class="p" cx="198.4" cy="434.7" r="1.85"/>
<circle class="p" cx="192.3" cy="453.6" r="1.85"/>
<circle class="p" cx="182.5" cy="456.2" r="1.85"/>
<circle class="p" cx="176" cy="461.7" r="1.85"/>
<circle class="p" cx="210.6" cy="442.8" r="1.85"/>
<circle class="p" cx="212.7" cy="450.1" r="1.85"/>
<circle class="p" cx="218.2" cy="447.5" r="1.85"/>
<circle class="p" cx="219.2" cy="434.7" r="1.85"/>
<circle class="p" cx="220.8" cy="429.8" r="1.85"/>
<circle class="p" cx="235.9" cy="434.7" r="1.85"/>
<circle class="p" cx="233.4" cy="450.1" r="1.85"/>
<circle class="p" cx="243.6" cy="450.5" r="1.85"/>
</g>
<line x1="56.7" y1="420.6" x2="251.5" y2="420.6" stroke="#2a2a2a" stroke-width="1.05" stroke-dasharray="6 1.5 1 1.5"/>
<polyline points="65.2,387.4 87.6,397.6 98.8,407.8 110,419.6 116.1,425.1 121.2,420 126.3,428.1 134.4,438.3 141.5,438.3 155.8,435.6 166.2,437.3 184.5,439.3 211,441.4 243.6,444" fill="none" stroke="#de6d6d" stroke-width="1.55" stroke-opacity="0.85" stroke-linejoin="round" stroke-linecap="round"/>
<line x1="110.3" y1="265" x2="110.3" y2="470.2" stroke="#4646c8" stroke-width="1.1" stroke-dasharray="3.2 1.6"/>
<text transform="translate(103.2,331) rotate(-90)" class="v" fill="#5050cc" stroke="#5050cc" stroke-width="0.25">Hemoglobin = -0.78</text>
<line x1="122.2" y1="265" x2="122.2" y2="470.2" stroke="#1c1c9c" stroke-width="1.5" stroke-dasharray="3.2 1.6"/>
<text transform="translate(137.2,332) rotate(-90)" class="v" fill="#2a2ab4" stroke="#2a2ab4" stroke-width="0.45">Hemoglobin = -0.45</text>
<line x1="377.8" y1="265" x2="377.8" y2="470.2" stroke="#e4e4e4" stroke-width="1"/>
<line x1="436.9" y1="265" x2="436.9" y2="470.2" stroke="#e4e4e4" stroke-width="1"/>
<line x1="496.2" y1="265" x2="496.2" y2="470.2" stroke="#e4e4e4" stroke-width="1"/>
<line x1="322.4" y1="268" x2="518.2" y2="268" stroke="#e4e4e4" stroke-width="1"/>
<line x1="322.4" y1="323.9" x2="518.2" y2="323.9" stroke="#e4e4e4" stroke-width="1"/>
<line x1="322.4" y1="379.6" x2="518.2" y2="379.6" stroke="#e4e4e4" stroke-width="1"/>
<line x1="322.4" y1="435" x2="518.2" y2="435" stroke="#e4e4e4" stroke-width="1"/>
<line x1="322.4" y1="265" x2="322.4" y2="470.2" stroke="#dcdcdc" stroke-width="1"/>
<line x1="322.4" y1="470.2" x2="518.2" y2="470.2" stroke="#dcdcdc" stroke-width="1"/>
<text x="377.8" y="488" text-anchor="middle" class="t">−2</text>
<text x="436.9" y="488" text-anchor="middle" class="t">0</text>
<text x="496.2" y="488" text-anchor="middle" class="t">2</text>
<text x="316.1" y="273.3" text-anchor="end" class="t">1.5</text>
<text x="316.1" y="329.2" text-anchor="end" class="t">1.0</text>
<text x="316.1" y="384.9" text-anchor="end" class="t">0.5</text>
<text x="316.1" y="440.3" text-anchor="end" class="t">0.0</text>
<text x="420.3" y="505.3" text-anchor="middle" class="t">pH</text>
<text transform="translate(288,368.2) rotate(-90)" text-anchor="middle" class="t">SHAP main effect value</text>
<text x="276.65" y="267.6" class="L">F</text>
<g filter="url(#bl)">
<circle class="p" cx="331.2" cy="274.8" r="1.85"/>
<circle class="p" cx="361.7" cy="301.1" r="1.85"/>
<circle class="p" cx="398.4" cy="298" r="1.85"/>
<circle class="p" cx="398.6" cy="298.3" r="1.85"/>
<circle class="p" cx="398.4" cy="329.2" r="1.85"/>
<circle class="p" cx="334.6" cy="343.9" r="1.85"/>
<circle class="p" cx="418.5" cy="378.8" r="1.85"/>
<circle class="p" cx="331.2" cy="390.5" r="1.85"/>
<circle class="p" cx="378.4" cy="400" r="1.85"/>
<circle class="p" cx="358.3" cy="413.3" r="1.85"/>
<circle class="p" cx="415.3" cy="406.1" r="1.85"/>
<circle class="p" cx="418.3" cy="410.2" r="1.85"/>
<circle class="p" cx="405.1" cy="412.9" r="1.85"/>
<circle class="p" cx="405.1" cy="418.6" r="1.85"/>
<circle class="p" cx="402" cy="420.4" r="1.85"/>
<circle class="p" cx="401.4" cy="422" r="1.85"/>
<circle class="p" cx="391.2" cy="418.4" r="1.85"/>
<circle class="p" cx="394.9" cy="423" r="1.85"/>
<circle class="p" cx="394.9" cy="426.1" r="1.85"/>
<circle class="p" cx="402" cy="425.1" r="1.85"/>
<circle class="p" cx="411.6" cy="423.7" r="1.85"/>
<circle class="p" cx="418.1" cy="420" r="1.85"/>
<circle class="p" cx="385.1" cy="429.2" r="1.85"/>
<circle class="p" cx="405.1" cy="429.2" r="1.85"/>
<circle class="p" cx="411.6" cy="429.8" r="1.85"/>
<circle class="p" cx="411.6" cy="431.2" r="1.85"/>
<circle class="p" cx="415.3" cy="427.7" r="1.85"/>
<circle class="p" cx="394.9" cy="432.6" r="1.85"/>
<circle class="p" cx="368.4" cy="439.3" r="1.85"/>
<circle class="p" cx="509.1" cy="405.7" r="1.85"/>
<circle class="p" cx="452.3" cy="414.9" r="1.85"/>
<circle class="p" cx="425.6" cy="420.4" r="1.85"/>
<circle class="p" cx="442.1" cy="425.1" r="1.85"/>
<circle class="p" cx="455.7" cy="428.5" r="1.85"/>
<circle class="p" cx="462.5" cy="433.2" r="1.85"/>
<circle class="p" cx="496.1" cy="432.6" r="1.85"/>
<circle class="p" cx="421.1" cy="428.1" r="1.85"/>
<circle class="p" cx="422.7" cy="430.6" r="1.85"/>
<circle class="p" cx="426.2" cy="439.3" r="1.85"/>
<circle class="p" cx="429.3" cy="440.4" r="1.85"/>
<circle class="p" cx="435.4" cy="440" r="1.85"/>
<circle class="p" cx="438.4" cy="441.4" r="1.85"/>
<circle class="p" cx="441.5" cy="439.3" r="1.85"/>
<circle class="p" cx="445.5" cy="442" r="1.85"/>
<circle class="p" cx="448.6" cy="439.3" r="1.85"/>
<circle class="p" cx="452.7" cy="438.7" r="1.85"/>
<circle class="p" cx="455.7" cy="440.4" r="1.85"/>
<circle class="p" cx="458.8" cy="441.4" r="1.85"/>
<circle class="p" cx="462.9" cy="440.4" r="1.85"/>
<circle class="p" cx="465.9" cy="441.4" r="1.85"/>
<circle class="p" cx="476.1" cy="440" r="1.85"/>
<circle class="p" cx="476.1" cy="442.4" r="1.85"/>
<circle class="p" cx="482.2" cy="442.8" r="1.85"/>
<circle class="p" cx="492.4" cy="437.3" r="1.85"/>
<circle class="p" cx="493.4" cy="440.4" r="1.85"/>
<circle class="p" cx="425.2" cy="445.4" r="1.85"/>
<circle class="p" cx="431.3" cy="446.5" r="1.85"/>
<circle class="p" cx="434.3" cy="444" r="1.85"/>
<circle class="p" cx="437.4" cy="445.4" r="1.85"/>
<circle class="p" cx="439.4" cy="447.5" r="1.85"/>
<circle class="p" cx="444.5" cy="446.1" r="1.85"/>
<circle class="p" cx="447.6" cy="448.5" r="1.85"/>
<circle class="p" cx="451.7" cy="446.9" r="1.85"/>
<circle class="p" cx="454.7" cy="445.4" r="1.85"/>
<circle class="p" cx="458.8" cy="446.5" r="1.85"/>
<circle class="p" cx="462.9" cy="447.5" r="1.85"/>
<circle class="p" cx="469" cy="448.9" r="1.85"/>
<circle class="p" cx="485.9" cy="445.4" r="1.85"/>
<circle class="p" cx="492.4" cy="449.5" r="1.85"/>
<circle class="p" cx="428.2" cy="448.5" r="1.85"/>
<circle class="p" cx="434.3" cy="449.5" r="1.85"/>
<circle class="p" cx="438.4" cy="450.5" r="1.85"/>
<circle class="p" cx="445.5" cy="451.6" r="1.85"/>
<circle class="p" cx="428.6" cy="452.6" r="1.85"/>
<circle class="p" cx="439" cy="453" r="1.85"/>
<circle class="p" cx="445.5" cy="453.6" r="1.85"/>
<circle class="p" cx="455.3" cy="455.6" r="1.85"/>
<circle class="p" cx="462.9" cy="453" r="1.85"/>
<circle class="p" cx="465.9" cy="452.2" r="1.85"/>
<circle class="p" cx="469" cy="455.6" r="1.85"/>
<circle class="p" cx="479.2" cy="454.6" r="1.85"/>
<circle class="p" cx="458.4" cy="457.1" r="1.85"/>
<circle class="p" cx="432.3" cy="456.2" r="1.85"/>
<circle class="p" cx="439" cy="460.7" r="1.85"/>
<circle class="p" cx="462.5" cy="461.7" r="1.85"/>
<circle class="p" cx="472.6" cy="460.7" r="1.85"/>
<circle class="p" cx="509.1" cy="444.4" r="1.85"/>
<circle class="p" cx="432" cy="442.5" r="1.85"/>
<circle class="p" cx="436" cy="443.2" r="1.85"/>
<circle class="p" cx="443" cy="443.5" r="1.85"/>
<circle class="p" cx="450" cy="444" r="1.85"/>
<circle class="p" cx="456" cy="443.5" r="1.85"/>
<circle class="p" cx="460" cy="444.5" r="1.85"/>
<circle class="p" cx="447" cy="441" r="1.85"/>
<circle class="p" cx="467" cy="444" r="1.85"/>
<circle class="p" cx="430" cy="443" r="1.85"/>
<circle class="p" cx="453" cy="442" r="1.85"/>
</g>
<line x1="322.4" y1="435" x2="518.2" y2="435" stroke="#2a2a2a" stroke-width="1.05" stroke-dasharray="6 1.5 1 1.5"/>
<polyline points="331.2,342.4 349.5,365 367.8,387.4 378,408.2 391.2,418 403.5,424.1 413.6,428.1 421.1,435.3 429.3,444 441.5,444.8 465.9,444.8 482.2,442 509.7,440.4" fill="none" stroke="#de6d6d" stroke-width="1.55" stroke-opacity="0.85" stroke-linejoin="round" stroke-linecap="round"/>
<line x1="421.1" y1="265" x2="421.1" y2="470.2" stroke="#1e1eaa" stroke-width="1.5" stroke-dasharray="3.2 1.6"/>
<text transform="translate(432.2,306.9) rotate(-90)" class="v" fill="#3434c4" stroke="#3434c4" stroke-width="0.4">pH = -0.54</text>
<line x1="592.5" y1="265" x2="592.5" y2="470.2" stroke="#e4e4e4" stroke-width="1"/>
<line x1="660.5" y1="265" x2="660.5" y2="470.2" stroke="#e4e4e4" stroke-width="1"/>
<line x1="728.6" y1="265" x2="728.6" y2="470.2" stroke="#e4e4e4" stroke-width="1"/>
<line x1="587.9" y1="299.6" x2="783.7" y2="299.6" stroke="#e4e4e4" stroke-width="1"/>
<line x1="587.9" y1="345.7" x2="783.7" y2="345.7" stroke="#e4e4e4" stroke-width="1"/>
<line x1="587.9" y1="392.2" x2="783.7" y2="392.2" stroke="#e4e4e4" stroke-width="1"/>
<line x1="587.9" y1="438.1" x2="783.7" y2="438.1" stroke="#e4e4e4" stroke-width="1"/>
<line x1="587.9" y1="265" x2="587.9" y2="470.2" stroke="#dcdcdc" stroke-width="1"/>
<line x1="587.9" y1="470.2" x2="783.7" y2="470.2" stroke="#dcdcdc" stroke-width="1"/>
<text x="592.5" y="488" text-anchor="middle" class="t">−2</text>
<text x="660.5" y="488" text-anchor="middle" class="t">0</text>
<text x="728.6" y="488" text-anchor="middle" class="t">2</text>
<text x="581.6" y="304.9" text-anchor="end" class="t">1.5</text>
<text x="581.6" y="351" text-anchor="end" class="t">1.0</text>
<text x="581.6" y="397.5" text-anchor="end" class="t">0.5</text>
<text x="581.6" y="443.4" text-anchor="end" class="t">0.0</text>
<text x="685.8" y="505.3" text-anchor="middle" class="t">Lymphocytes</text>
<text transform="translate(554,368.1) rotate(-90)" text-anchor="middle" class="t">SHAP main effect value</text>
<text x="526.4" y="267.6" class="L">G</text>
<g filter="url(#bl)">
<circle class="p" cx="746.3" cy="274.8" r="1.85"/>
<circle class="p" cx="718.6" cy="317.6" r="1.85"/>
<circle class="p" cx="775.2" cy="345.3" r="1.85"/>
<circle class="p" cx="700.7" cy="378.8" r="1.85"/>
<circle class="p" cx="719.2" cy="378.2" r="1.85"/>
<circle class="p" cx="734.5" cy="386.4" r="1.85"/>
<circle class="p" cx="716.5" cy="392.1" r="1.85"/>
<circle class="p" cx="731.2" cy="398.6" r="1.85"/>
<circle class="p" cx="695.2" cy="416.5" r="1.85"/>
<circle class="p" cx="712.5" cy="414.5" r="1.85"/>
<circle class="p" cx="718.2" cy="413.9" r="1.85"/>
<circle class="p" cx="729.4" cy="417.3" r="1.85"/>
<circle class="p" cx="700.7" cy="422" r="1.85"/>
<circle class="p" cx="706" cy="420.4" r="1.85"/>
<circle class="p" cx="708.8" cy="422" r="1.85"/>
<circle class="p" cx="711.5" cy="422" r="1.85"/>
<circle class="p" cx="700.3" cy="426.5" r="1.85"/>
<circle class="p" cx="705.3" cy="429.8" r="1.85"/>
<circle class="p" cx="708" cy="428.5" r="1.85"/>
<circle class="p" cx="711.1" cy="431.2" r="1.85"/>
<circle class="p" cx="714.9" cy="429.8" r="1.85"/>
<circle class="p" cx="699.2" cy="435.3" r="1.85"/>
<circle class="p" cx="699.2" cy="436.7" r="1.85"/>
<circle class="p" cx="691.1" cy="439.3" r="1.85"/>
<circle class="p" cx="693.1" cy="442" r="1.85"/>
<circle class="p" cx="686" cy="444.4" r="1.85"/>
<circle class="p" cx="616.1" cy="385.4" r="1.85"/>
<circle class="p" cx="617.5" cy="385.4" r="1.85"/>
<circle class="p" cx="621" cy="393.9" r="1.85"/>
<circle class="p" cx="616.5" cy="413.5" r="1.85"/>
<circle class="p" cx="614.5" cy="423.7" r="1.85"/>
<circle class="p" cx="604.9" cy="424.9" r="1.85"/>
<circle class="p" cx="646.7" cy="423.5" r="1.85"/>
<circle class="p" cx="646.9" cy="423.7" r="1.85"/>
<circle class="p" cx="659.3" cy="427.5" r="1.85"/>
<circle class="p" cx="652.6" cy="430.8" r="1.85"/>
<circle class="p" cx="645" cy="433.2" r="1.85"/>
<circle class="p" cx="605.3" cy="432.2" r="1.85"/>
<circle class="p" cx="610" cy="433.2" r="1.85"/>
<circle class="p" cx="612" cy="434.7" r="1.85"/>
<circle class="p" cx="597.2" cy="443.4" r="1.85"/>
<circle class="p" cx="605.9" cy="441.4" r="1.85"/>
<circle class="p" cx="610" cy="439.3" r="1.85"/>
<circle class="p" cx="615.5" cy="438.7" r="1.85"/>
<circle class="p" cx="618.5" cy="440" r="1.85"/>
<circle class="p" cx="612.4" cy="450.5" r="1.85"/>
<circle class="p" cx="612.4" cy="461.1" r="1.85"/>
<circle class="p" cx="636.5" cy="437.3" r="1.85"/>
<circle class="p" cx="621.6" cy="444.4" r="1.85"/>
<circle class="p" cx="625.7" cy="443.4" r="1.85"/>
<circle class="p" cx="627.7" cy="446.1" r="1.85"/>
<circle class="p" cx="629.8" cy="442.4" r="1.85"/>
<circle class="p" cx="631.8" cy="445.4" r="1.85"/>
<circle class="p" cx="633.8" cy="442.4" r="1.85"/>
<circle class="p" cx="636.9" cy="441.4" r="1.85"/>
<circle class="p" cx="639.9" cy="443.4" r="1.85"/>
<circle class="p" cx="643" cy="442.4" r="1.85"/>
<circle class="p" cx="647.1" cy="444.4" r="1.85"/>
<circle class="p" cx="650.1" cy="443.4" r="1.85"/>
<circle class="p" cx="653.2" cy="442" r="1.85"/>
<circle class="p" cx="657.2" cy="443.4" r="1.85"/>
<circle class="p" cx="662.3" cy="444.4" r="1.85"/>
<circle class="p" cx="665.4" cy="442.4" r="1.85"/>
<circle class="p" cx="668.4" cy="443.4" r="1.85"/>
<circle class="p" cx="671.5" cy="442.4" r="1.85"/>
<circle class="p" cx="673.5" cy="444.8" r="1.85"/>
<circle class="p" cx="677.6" cy="443.4" r="1.85"/>
<circle class="p" cx="681.7" cy="443.4" r="1.85"/>
<circle class="p" cx="685.8" cy="444.4" r="1.85"/>
<circle class="p" cx="626.7" cy="447.5" r="1.85"/>
<circle class="p" cx="629.8" cy="448.5" r="1.85"/>
<circle class="p" cx="633.8" cy="447.5" r="1.85"/>
<circle class="p" cx="641" cy="445.4" r="1.85"/>
<circle class="p" cx="644" cy="446.1" r="1.85"/>
<circle class="p" cx="661.3" cy="448.5" r="1.85"/>
<circle class="p" cx="666.4" cy="447.5" r="1.85"/>
<circle class="p" cx="669.5" cy="448.5" r="1.85"/>
<circle class="p" cx="672.5" cy="447.5" r="1.85"/>
<circle class="p" cx="678.6" cy="445.4" r="1.85"/>
<circle class="p" cx="682.7" cy="448.5" r="1.85"/>
<circle class="p" cx="632.8" cy="450.5" r="1.85"/>
<circle class="p" cx="635.9" cy="451.6" r="1.85"/>
<circle class="p" cx="639.9" cy="453.6" r="1.85"/>
<circle class="p" cx="661.3" cy="451.6" r="1.85"/>
<circle class="p" cx="634.8" cy="448.1" r="1.85"/>
<circle class="p" cx="624" cy="443" r="1.85"/>
<circle class="p" cx="628" cy="444" r="1.85"/>
<circle class="p" cx="635" cy="444.5" r="1.85"/>
<circle class="p" cx="642" cy="444" r="1.85"/>
<circle class="p" cx="649" cy="443" r="1.85"/>
<circle class="p" cx="656" cy="444.5" r="1.85"/>
<circle class="p" cx="664" cy="444" r="1.85"/>
<circle class="p" cx="670" cy="445" r="1.85"/>
<circle class="p" cx="676" cy="444" r="1.85"/>
<circle class="p" cx="631" cy="447" r="1.85"/>
</g>
<line x1="587.9" y1="438.1" x2="783.7" y2="438.1" stroke="#2a2a2a" stroke-width="1.05" stroke-dasharray="6 1.5 1 1.5"/>
<polyline points="597.2,431.8 608.4,435.9 616.5,438.3 625.7,442.8 638.9,443.4 655.2,443.4 669.5,444 686,441.4 691.1,438.3 706.4,426.1 718.6,411.8 730.8,397.6 759.3,365 775.2,345.3" fill="none" stroke="#de6d6d" stroke-width="1.55" stroke-opacity="0.85" stroke-linejoin="round" stroke-linecap="round"/>
<line x1="614.7" y1="265" x2="614.7" y2="470.2" stroke="#2a2ab4" stroke-width="1.3" stroke-dasharray="3.2 1.6"/>
<text transform="translate(624.5,338.6) rotate(-90)" class="v" fill="#4040c8" stroke="#4040c8" stroke-width="0.25">Lymphocytes = -1.36</text>
<line x1="690.6" y1="265" x2="690.6" y2="470.2" stroke="#4646c8" stroke-width="1.1" stroke-dasharray="3.2 1.6"/>
<text transform="translate(700.7,335.1) rotate(-90)" class="v" fill="#4a4acc" stroke="#4a4acc" stroke-width="0.25">Lymphocytes = 0.87</text>
<line x1="857.7" y1="266.9" x2="857.7" y2="470.2" stroke="#e4e4e4" stroke-width="1"/>
<line x1="920.5" y1="266.9" x2="920.5" y2="470.2" stroke="#e4e4e4" stroke-width="1"/>
<line x1="983.5" y1="266.9" x2="983.5" y2="470.2" stroke="#e4e4e4" stroke-width="1"/>
<line x1="1045.7" y1="266.9" x2="1045.7" y2="470.2" stroke="#e4e4e4" stroke-width="1"/>
<line x1="854.4" y1="266.9" x2="1049.7" y2="266.9" stroke="#e4e4e4" stroke-width="1"/>
<line x1="854.4" y1="335.2" x2="1049.7" y2="335.2" stroke="#e4e4e4" stroke-width="1"/>
<line x1="854.4" y1="402.3" x2="1049.7" y2="402.3" stroke="#e4e4e4" stroke-width="1"/>
<line x1="854.4" y1="469.8" x2="1049.7" y2="469.8" stroke="#e4e4e4" stroke-width="1"/>
<line x1="854.4" y1="266.9" x2="854.4" y2="470.2" stroke="#dcdcdc" stroke-width="1"/>
<line x1="854.4" y1="470.2" x2="1049.7" y2="470.2" stroke="#dcdcdc" stroke-width="1"/>
<text x="857.7" y="488" text-anchor="middle" class="t">−2</text>
<text x="920.5" y="488" text-anchor="middle" class="t">0</text>
<text x="983.5" y="488" text-anchor="middle" class="t">2</text>
<text x="1045.7" y="488" text-anchor="middle" class="t">4</text>
<text x="848.1" y="272.2" text-anchor="end" class="t">1.0</text>
<text x="848.1" y="340.5" text-anchor="end" class="t">0.5</text>
<text x="848.1" y="407.6" text-anchor="end" class="t">0.0</text>
<text x="848.1" y="475.1" text-anchor="end" class="t">−0.5</text>
<text x="952.05" y="505.3" text-anchor="middle" class="t">PO2</text>
<text transform="translate(810.3,368.3) rotate(-90)" text-anchor="middle" class="t">SHAP main effect value</text>
<text x="794.4" y="267.6" class="L">H</text>
<g filter="url(#bl)">
<circle class="p" cx="872.3" cy="274.8" r="1.85"/>
<circle class="p" cx="885.6" cy="284" r="1.85"/>
<circle class="p" cx="894.7" cy="312.3" r="1.85"/>
<circle class="p" cx="894.9" cy="312.5" r="1.85"/>
<circle class="p" cx="880.9" cy="339.8" r="1.85"/>
<circle class="p" cx="893.7" cy="340.4" r="1.85"/>
<circle class="p" cx="882.1" cy="347.9" r="1.85"/>
<circle class="p" cx="863.2" cy="351.6" r="1.85"/>
<circle class="p" cx="874" cy="353" r="1.85"/>
<circle class="p" cx="876.4" cy="353.6" r="1.85"/>
<circle class="p" cx="877.8" cy="358.3" r="1.85"/>
<circle class="p" cx="889.6" cy="360.1" r="1.85"/>
<circle class="p" cx="910" cy="352" r="1.85"/>
<circle class="p" cx="941.6" cy="360.4" r="1.85"/>
<circle class="p" cx="864.6" cy="364.8" r="1.85"/>
<circle class="p" cx="875.4" cy="363.4" r="1.85"/>
<circle class="p" cx="882.9" cy="363.8" r="1.85"/>
<circle class="p" cx="863.2" cy="372.1" r="1.85"/>
<circle class="p" cx="864.6" cy="373.1" r="1.85"/>
<circle class="p" cx="883.5" cy="367.5" r="1.85"/>
<circle class="p" cx="876.4" cy="372.7" r="1.85"/>
<circle class="p" cx="878.4" cy="372.7" r="1.85"/>
<circle class="p" cx="881.5" cy="375.2" r="1.85"/>
<circle class="p" cx="885.6" cy="383.9" r="1.85"/>
<circle class="p" cx="899.2" cy="380.9" r="1.85"/>
<circle class="p" cx="902.5" cy="377.8" r="1.85"/>
<circle class="p" cx="893.7" cy="387" r="1.85"/>
<circle class="p" cx="892.7" cy="392.1" r="1.85"/>
<circle class="p" cx="895.8" cy="397.6" r="1.85"/>
<circle class="p" cx="900.8" cy="397.6" r="1.85"/>
<circle class="p" cx="897.8" cy="400.6" r="1.85"/>
<circle class="p" cx="902.9" cy="400.6" r="1.85"/>
<circle class="p" cx="907" cy="399.6" r="1.85"/>
<circle class="p" cx="908" cy="401.7" r="1.85"/>
<circle class="p" cx="903.3" cy="404.7" r="1.85"/>
<circle class="p" cx="898.4" cy="406.3" r="1.85"/>
<circle class="p" cx="910" cy="406.8" r="1.85"/>
<circle class="p" cx="913.1" cy="404.7" r="1.85"/>
<circle class="p" cx="915.1" cy="407.8" r="1.85"/>
<circle class="p" cx="917.1" cy="410.2" r="1.85"/>
<circle class="p" cx="921.2" cy="407.8" r="1.85"/>
<circle class="p" cx="921.6" cy="398.6" r="1.85"/>
<circle class="p" cx="923.7" cy="397.2" r="1.85"/>
<circle class="p" cx="924.3" cy="405.3" r="1.85"/>
<circle class="p" cx="923.2" cy="412.9" r="1.85"/>
<circle class="p" cx="925.3" cy="413.9" r="1.85"/>
<circle class="p" cx="927.3" cy="410.8" r="1.85"/>
<circle class="p" cx="928.3" cy="414.9" r="1.85"/>
<circle class="p" cx="930.4" cy="406.8" r="1.85"/>
<circle class="p" cx="931.4" cy="408.8" r="1.85"/>
<circle class="p" cx="931.4" cy="413.9" r="1.85"/>
<circle class="p" cx="932.4" cy="416.9" r="1.85"/>
<circle class="p" cx="934.4" cy="413.9" r="1.85"/>
<circle class="p" cx="934.4" cy="418" r="1.85"/>
<circle class="p" cx="936.5" cy="407.8" r="1.85"/>
<circle class="p" cx="939.1" cy="410.8" r="1.85"/>
<circle class="p" cx="939.5" cy="414.9" r="1.85"/>
<circle class="p" cx="945.6" cy="421" r="1.85"/>
<circle class="p" cx="929.4" cy="420" r="1.85"/>
<circle class="p" cx="923.9" cy="421.4" r="1.85"/>
<circle class="p" cx="919.2" cy="422" r="1.85"/>
<circle class="p" cx="913.5" cy="418.6" r="1.85"/>
<circle class="p" cx="939.5" cy="425.7" r="1.85"/>
<circle class="p" cx="929" cy="429.2" r="1.85"/>
<circle class="p" cx="929" cy="433.2" r="1.85"/>
<circle class="p" cx="946.7" cy="373.6" r="1.85"/>
<circle class="p" cx="941.6" cy="380.9" r="1.85"/>
<circle class="p" cx="948.7" cy="394.1" r="1.85"/>
<circle class="p" cx="952.8" cy="396" r="1.85"/>
<circle class="p" cx="947.3" cy="398" r="1.85"/>
<circle class="p" cx="947.7" cy="402.7" r="1.85"/>
<circle class="p" cx="943.6" cy="404.7" r="1.85"/>
<circle class="p" cx="953" cy="396.2" r="1.85"/>
<circle class="p" cx="961.2" cy="397.2" r="1.85"/>
<circle class="p" cx="954" cy="402.3" r="1.85"/>
<circle class="p" cx="955.1" cy="404.3" r="1.85"/>
<circle class="p" cx="956.1" cy="405.4" r="1.85"/>
<circle class="p" cx="960.6" cy="405" r="1.85"/>
<circle class="p" cx="959.1" cy="409.8" r="1.85"/>
<circle class="p" cx="961.2" cy="412.5" r="1.85"/>
<circle class="p" cx="964.2" cy="412.5" r="1.85"/>
<circle class="p" cx="968.3" cy="413.5" r="1.85"/>
<circle class="p" cx="975.4" cy="404.3" r="1.85"/>
<circle class="p" cx="978.5" cy="403.3" r="1.85"/>
<circle class="p" cx="987.6" cy="403.7" r="1.85"/>
<circle class="p" cx="1004.5" cy="402.3" r="1.85"/>
<circle class="p" cx="1030.4" cy="405.4" r="1.85"/>
<circle class="p" cx="986.2" cy="416.6" r="1.85"/>
<circle class="p" cx="961.2" cy="420.6" r="1.85"/>
<circle class="p" cx="963.2" cy="422.1" r="1.85"/>
<circle class="p" cx="956.1" cy="425.7" r="1.85"/>
<circle class="p" cx="1041" cy="422.1" r="1.85"/>
<circle class="p" cx="992.5" cy="437.3" r="1.85"/>
<circle class="p" cx="981.3" cy="442.9" r="1.85"/>
<circle class="p" cx="960.8" cy="444.3" r="1.85"/>
<circle class="p" cx="993.2" cy="461.4" r="1.85"/>
<circle class="p" cx="945.9" cy="421.2" r="1.85"/>
</g>
<line x1="854.4" y1="402.3" x2="1049.7" y2="402.3" stroke="#2a2a2a" stroke-width="1.05" stroke-dasharray="6 1.5 1 1.5"/>
<polyline points="863.2,354.6 874.4,365 882.5,373.1 888.6,381.3 893.7,390.5 900.8,399.6 907.4,402.1 915.1,404.7 923.2,407.8 931.4,410.8 937.5,410.2 943.6,405.7 952,406.4 974.4,408.4 991.7,407 1007,409.4 1041.6,413.1" fill="none" stroke="#de6d6d" stroke-width="1.55" stroke-opacity="0.85" stroke-linejoin="round" stroke-linecap="round"/>
<line x1="907.3" y1="265.4" x2="907.3" y2="470.2" stroke="#1e1eaa" stroke-width="1.5" stroke-dasharray="3.2 1.6"/>
<text transform="translate(918.2,309.2) rotate(-90)" class="v" fill="#3434c4" stroke="#3434c4" stroke-width="0.4">PO2 = -0.42</text>
</svg></div>
</body></html>
